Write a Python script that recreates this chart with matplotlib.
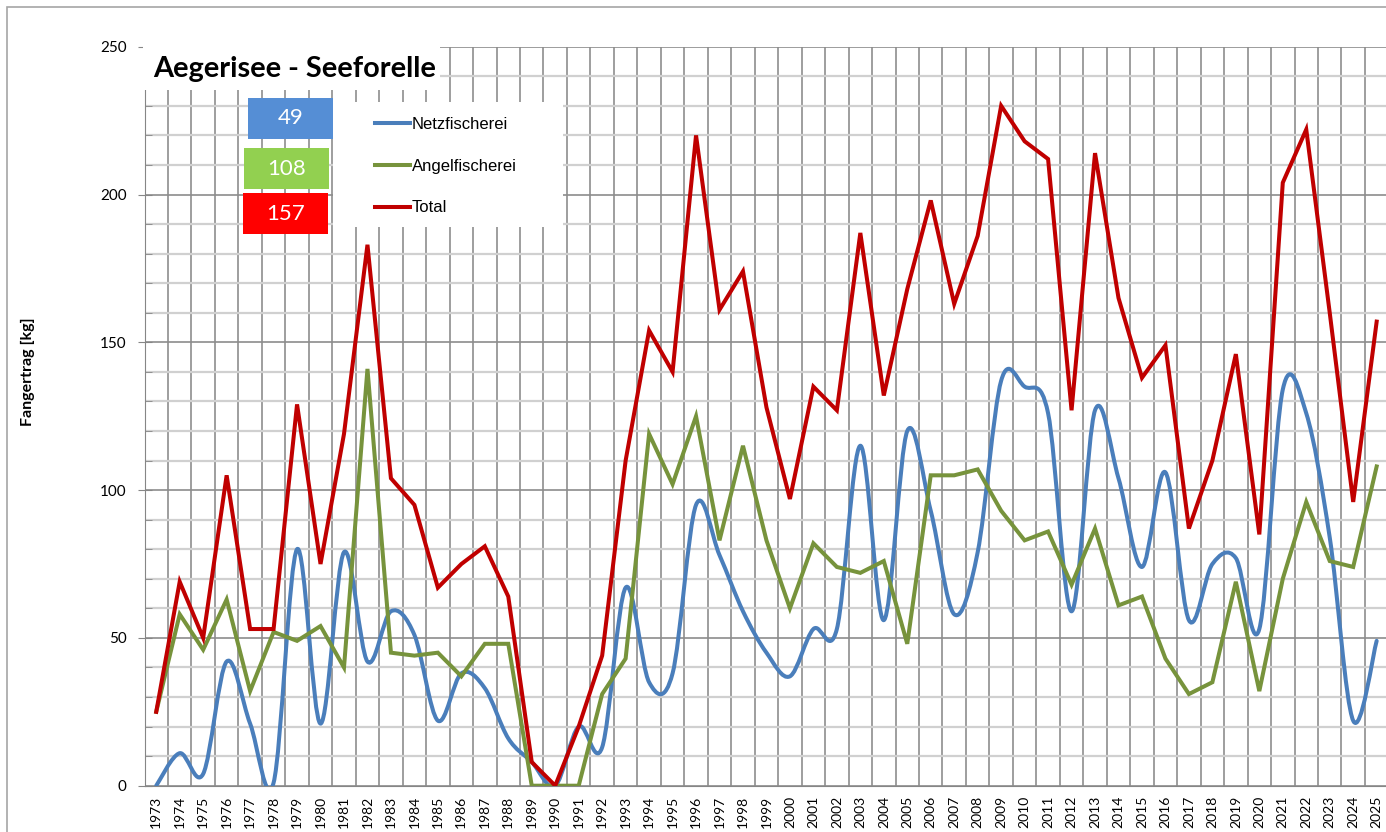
import numpy as np
import matplotlib
matplotlib.use('Agg')
import matplotlib.pyplot as plt
from matplotlib.path import Path
from matplotlib.patches import PathPatch, Rectangle
from matplotlib.lines import Line2D

years = list(range(1973, 2026))
netz = [0, 11, 4, 42, 21, 1, 80, 21, 79, 42, 59, 51, 22, 38, 33, 16, 8, 0, 20, 13,
        67, 35, 38, 95, 78, 59, 45, 37, 53, 53, 115, 56, 120, 93, 58, 79, 137, 135,
        126, 59, 127, 104, 74, 106, 56, 75, 77, 53, 134, 126, 84, 22, 49]
angel = [25, 58, 46, 63, 32, 52, 49, 54, 40, 141, 45, 44, 45, 37, 48, 48, 0, 0, 0, 31,
         43, 119, 102, 125, 83, 115, 83, 60, 82, 74, 72, 76, 48, 105, 105, 107, 93, 83,
         86, 68, 87, 61, 64, 43, 31, 35, 69, 32, 70, 96, 76, 74, 108]
total = [25, 69, 50, 105, 53, 53, 129, 75, 119, 183, 104, 95, 67, 75, 81, 64, 8, 0, 20, 44,
         110, 154, 140, 220, 161, 174, 128, 97, 135, 127, 187, 132, 168, 198, 163, 186, 230, 218,
         212, 127, 214, 165, 138, 149, 87, 110, 146, 85, 204, 222, 160, 96, 157]
labels = ['Netzfischerei', 'Angelfischerei', 'Total']
colors = ['#4A7EBB', '#77933C', '#C00000']
box_colors = ['#558ED5', '#92D050', '#FF0000']

W, H = 1386, 832
fig = plt.figure(figsize=(W / 100, H / 100), dpi=100)
fig.patch.set_facecolor('white')

def fx(px):
    return px / W

def fy(py):
    return 1 - py / H

ax = fig.add_axes([fx(144.5), 46.3 / H, (1388.4 - 144.5) / W, 739 / H])
ax.set_xlim(1972.5, 2025.5)
ax.set_ylim(0, 250)


def smooth_path(x, y):
    # excel style smoothed line (bezier through the points)
    x = np.asarray(x, float)
    y = np.asarray(y, float)
    n = len(x)
    verts = [(x[0], y[0])]
    codes = [Path.MOVETO]
    for i in range(n - 1):
        a = i - 1 if i > 0 else i
        d = i + 2 if i + 2 < n else i + 1
        c1 = (x[i] + (x[i + 1] - x[a]) / 6, y[i] + (y[i + 1] - y[a]) / 6)
        c2 = (x[i + 1] - (x[d] - x[i]) / 6, y[i + 1] - (y[d] - y[i]) / 6)
        verts += [c1, c2, (x[i + 1], y[i + 1])]
        codes += [Path.CURVE4] * 3
    return Path(verts, codes)


lw = 2.9
ax.add_patch(PathPatch(smooth_path(years, netz), fill=False, edgecolor=colors[0],
                       lw=lw, capstyle='round', joinstyle='round', zorder=3))
ax.plot(years, angel, color=colors[1], lw=lw, solid_joinstyle='miter', zorder=4)
ax.plot(years, total, color=colors[2], lw=lw, solid_joinstyle='miter', zorder=5)

# grid
ax.set_xticks(years)
ax.set_xticklabels([str(y) for y in years], rotation=90, family='Lato', fontsize=10)
ax.set_xticks(np.arange(1972.5, 2026, 1), minor=True)
ax.set_yticks(np.arange(0, 251, 50))
ax.set_yticks(np.arange(0, 251, 10), minor=True)
ax.set_yticklabels([str(v) for v in range(0, 251, 50)], family='Lato', fontsize=11)
ax.grid(axis='x', which='minor', color='#969696', lw=1.3, zorder=0)
ax.grid(axis='y', which='minor', color='#d0d0d0', lw=1.6, zorder=0)
ax.grid(axis='y', which='major', color='#8c8c8c', lw=1.2, zorder=0)
ax.grid(axis='x', which='major', visible=False)
ax.set_axisbelow(True)
ax.tick_params(axis='x', which='both', length=0, pad=7)
ax.tick_params(axis='y', which='major', direction='inout', length=10, color='#868686', pad=8)
ax.tick_params(axis='y', which='minor', direction='in', length=5, color='#868686')
for s in ['top', 'right']:
    ax.spines[s].set_visible(False)
for s in ['left', 'bottom']:
    ax.spines[s].set_color('#868686')

# chart border
fig.patches.append(Rectangle((fx(7), -0.1), 2, fy(7) + 0.1, transform=fig.transFigure,
                             fill=False, edgecolor='#a6a6a6', lw=1.2, zorder=1))

# title box
fig.patches.append(Rectangle((fx(143), fy(90)), fx(440) - fx(143), fy(46) - fy(90),
                             transform=fig.transFigure, facecolor='white', edgecolor='none', zorder=1))
fig.text(fx(153), fy(69), 'Aegerisee - Seeforelle', fontsize=20.8, fontweight='bold',
         family='Lato', va='center', ha='left', zorder=2)

# legend box
fig.patches.append(Rectangle((fx(333), fy(227)), fx(563) - fx(333), fy(102) - fy(227),
                             transform=fig.transFigure, facecolor='white', edgecolor='none', zorder=1))
handles = [Line2D([], [], color=c, lw=lw) for c in colors]
leg = fig.legend(handles, labels, loc='upper left', bbox_to_anchor=(fx(375), fy(117)),
                 bbox_transform=fig.transFigure, frameon=False, borderaxespad=0, borderpad=0,
                 prop={'family': 'Liberation Sans', 'size': 12}, handlelength=2.1,
                 handletextpad=0.12, labelspacing=1.6)
leg.set_zorder(2)

# last value boxes
last_vals = [netz[-1], angel[-1], total[-1]]
boxes = [(248, 98, 333, 139), (244, 148, 329, 189), (243, 193, 328, 234)]
for (x0, y0, x1, y1), val, bc in zip(boxes, last_vals, box_colors):
    fig.patches.append(Rectangle((fx(x0), fy(y1)), fx(x1) - fx(x0), fy(y0) - fy(y1),
                                 transform=fig.transFigure, facecolor=bc, edgecolor='none', zorder=1))
    fig.text((fx(x0) + fx(x1)) / 2, (fy(y0) + fy(y1)) / 2, str(val), color='white',
             fontsize=16, family='Lato', ha='center', va='center', zorder=2)

fig.text(fx(28), fy(372), 'Fangertrag [kg]', rotation=90, fontsize=11.5, fontweight='bold',
         family='Lato', ha='center', va='center')

fig.savefig('out.png', dpi=100)
